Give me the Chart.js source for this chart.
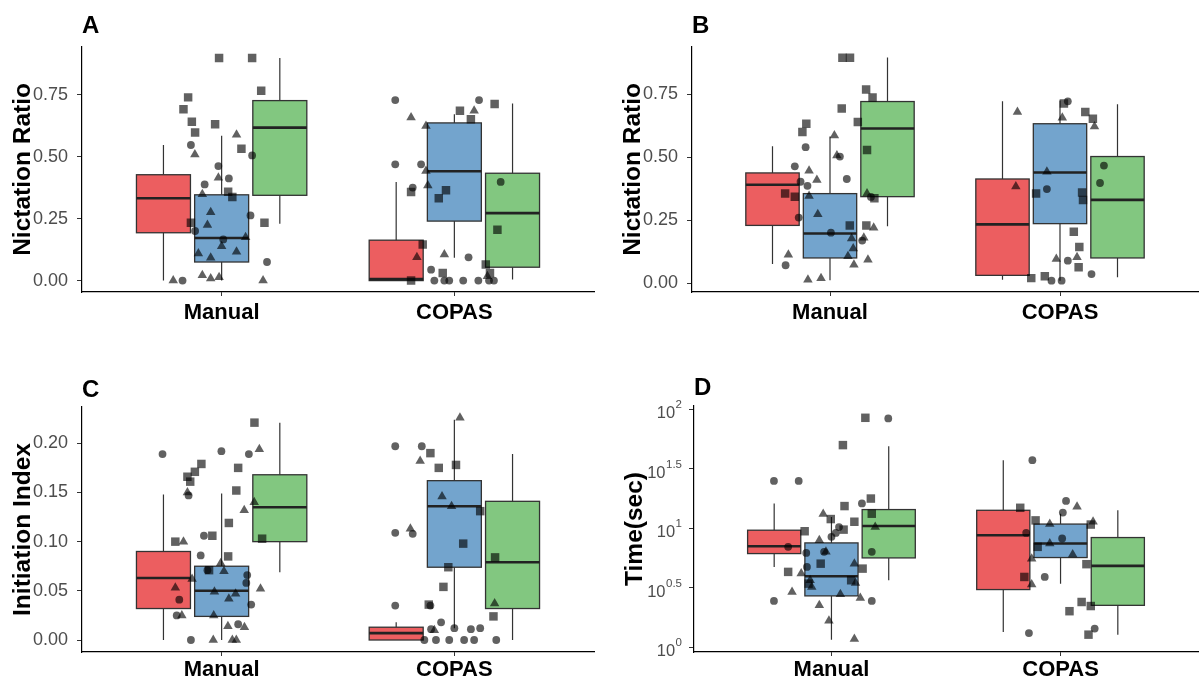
<!DOCTYPE html>
<html>
<head>
<meta charset="utf-8">
<script src="https://cdn.jsdelivr.net/npm/chart.js@4.4.1/dist/chart.umd.min.js"></script>
<style>
  body { margin: 0; background: #fff; }
  #wrap { position: relative; width: 1204px; height: 684px; overflow: hidden; }
  #wrap canvas { position: absolute; }
</style>
</head>
<body>
<div id="wrap">
  <canvas id="panelA" width="600" height="340" style="left:0;top:0"></canvas>
  <canvas id="panelB" width="604" height="340" style="left:600px;top:0"></canvas>
  <canvas id="panelC" width="600" height="344" style="left:0;top:340px"></canvas>
  <canvas id="panelD" width="604" height="344" style="left:600px;top:340px"></canvas>
</div>
<script>
// categories on the x axis (1 = Manual, 2 = COPAS); boxes come in the order
// Manual red, blue, green, COPAS red, blue, green
const groups = ['Manual', 'COPAS'];
const ratioTicks = [0, 0.25, 0.5, 0.75];
const indexTicks = [0, 0.05, 0.10, 0.15, 0.20];
const timeTickExps = [0, 0.5, 1, 1.5, 2];

// ---- A: Nictation Ratio ----
const aLower  = [0.000, 0.000, 0.229, 0.000, 0.092, 0.004];
const aQ1     = [0.193, 0.075, 0.344, 0.000, 0.240, 0.054];
const aMedian = [0.332, 0.172, 0.617, 0.006, 0.441, 0.272];
const aQ3     = [0.427, 0.346, 0.726, 0.163, 0.636, 0.433];
const aUpper  = [0.547, 0.584, 0.898, 0.398, 0.671, 0.714];
const aCircles = [[0.868,0.547],[0.986,0.462],[1.031,0.412],[0.927,0.388],[1.131,0.505],[1.124,0.263],
  [1.007,0.166],[1.195,0.075],[0.832,0.0],[0.886,0.200],
  [1.746,0.728],[1.746,0.469],[1.857,0.469],[1.821,0.375],[2.106,0.728],[2.199,0.398],[2.061,0.094],
  [1.900,0.044],[1.914,0.0],[1.957,0.0],[1.978,0.0],[2.038,0.0],[2.103,0.0],[2.149,0.0],[2.170,0.0]];
const aTriangles = [[0.885,0.509],[1.064,0.588],[0.986,0.415],[0.953,0.276],[0.939,0.224],[0.900,0.109],
  [1.064,0.116],[1.000,0.139],[0.953,0.092],[1.103,0.175],[0.792,0.0],[0.917,0.022],[0.953,0.008],
  [0.989,0.013],[1.178,0.0],[0.917,0.348],
  [1.814,0.658],[1.878,0.624],[1.878,0.442],[1.886,0.384],[2.085,0.685],[1.957,0.105],[1.839,0.094],[2.142,0.018]];
const aSquares = [[0.989,0.898],[1.131,0.898],[1.170,0.766],[0.856,0.739],[0.836,0.691],[0.872,0.641],
  [0.886,0.597],[0.972,0.631],[1.085,0.532],[1.028,0.358],[1.046,0.337],[0.868,0.233],[1.184,0.233],
  [2.173,0.712],[2.024,0.685],[2.071,0.651],[1.964,0.364],[1.933,0.332],[1.814,0.357],[2.185,0.205],
  [1.864,0.146],[1.814,0.0],[1.950,0.031],[2.135,0.065],[2.153,0.031]];

// ---- B: Nictation Ratio ----
const bLower  = [0.077, 0.013, 0.227, 0.015, 0.011, 0.024];
const bQ1     = [0.230, 0.101, 0.344, 0.032, 0.237, 0.101];
const bMedian = [0.391, 0.198, 0.614, 0.234, 0.440, 0.331];
const bQ3     = [0.438, 0.356, 0.721, 0.414, 0.633, 0.503];
const bUpper  = [0.544, 0.582, 0.896, 0.722, 0.725, 0.710];
const bCircles = [[0.894,0.540],[0.847,0.464],[1.043,0.503],[1.073,0.414],[0.902,0.387],[0.872,0.403],
  [0.864,0.261],[1.004,0.201],[1.140,0.170],[0.807,0.072],[1.178,0.343],
  [2.034,0.722],[1.943,0.374],[2.191,0.467],[2.174,0.398],[2.034,0.090],[1.963,0.011],[2.007,0.011],[2.137,0.037]];
const bTriangles = [[1.019,0.586],[1.030,0.507],[0.909,0.447],[0.943,0.410],[0.909,0.347],[0.947,0.274],
  [1.161,0.356],[0.819,0.114],[1.094,0.178],[1.101,0.138],[1.078,0.108],[1.104,0.074],[1.165,0.094],
  [1.147,0.181],[1.190,0.221],[0.904,0.015],[0.961,0.021],
  [1.815,0.680],[1.808,0.384],[1.943,0.443],[2.010,0.657],[2.150,0.622],[1.984,0.097],[2.074,0.104]];
const bSquares = [[1.054,0.895],[1.087,0.895],[1.157,0.769],[1.185,0.737],[1.051,0.693],[1.121,0.640],
  [0.897,0.633],[0.880,0.600],[1.161,0.529],[0.805,0.356],[0.847,0.344],[1.086,0.230],[1.158,0.230],[1.193,0.338],
  [2.017,0.713],[2.110,0.680],[2.143,0.653],[1.896,0.356],[2.096,0.360],[2.100,0.331],[2.060,0.205],
  [2.084,0.144],[2.081,0.064],[1.875,0.021],[1.934,0.028]];

// ---- C: Initiation Index ----
const cLower  = [0.000, 0.000, 0.069, 0.000, 0.012, 0.000];
const cQ1     = [0.032, 0.024, 0.100, 0.000, 0.074, 0.032];
const cMedian = [0.063, 0.050, 0.135, 0.007, 0.136, 0.079];
const cQ3     = [0.090, 0.075, 0.168, 0.013, 0.162, 0.141];
const cUpper  = [0.148, 0.149, 0.221, 0.018, 0.224, 0.189];
const cCircles = [[0.746,0.189],[0.999,0.192],[1.117,0.189],[0.858,0.147],[0.924,0.106],[0.910,0.086],
  [0.939,0.071],[0.818,0.041],[0.807,0.025],[0.868,0.0],[1.110,0.066],[1.106,0.058],[1.127,0.036],[1.071,0.016],
  [1.746,0.197],[1.860,0.197],[1.746,0.109],[1.821,0.108],[1.746,0.035],[1.897,0.035],[1.943,0.018],
  [2.000,0.012],[1.900,0.011],[2.071,0.011],[2.111,0.012],[1.871,0.0],[1.921,0.0],[1.978,0.0],
  [2.042,0.0],[2.085,0.0],[2.180,0.0]];
const cTriangles = [[1.162,0.194],[0.853,0.150],[1.097,0.132],[1.140,0.140],[0.836,0.100],[0.996,0.078],
  [1.010,0.070],[0.873,0.062],[0.801,0.053],[0.969,0.049],[1.060,0.047],[1.031,0.042],[1.167,0.052],
  [0.829,0.025],[0.966,0.025],[1.027,0.014],[1.098,0.013],[0.964,0.0],[1.046,0.0],[1.063,0.0],
  [2.024,0.226],[1.853,0.182],[1.947,0.146],[1.988,0.136],[1.811,0.113],[2.173,0.037],[1.914,0.010]];
const cSquares = [[1.141,0.221],[0.913,0.179],[0.885,0.171],[0.853,0.166],[0.865,0.161],[1.071,0.175],
  [1.063,0.152],[1.031,0.119],[0.960,0.106],[0.801,0.100],[1.028,0.085],[1.174,0.103],[0.946,0.071],
  [1.897,0.190],[1.933,0.175],[2.007,0.178],[2.111,0.131],[2.038,0.098],[2.175,0.084],[1.974,0.074],
  [1.953,0.054],[1.890,0.036],[2.168,0.024]];

// ---- D: Time (sec), log scale ----
const dLower  = [4.71, 1.15, 3.64, 1.34, 3.41, 1.27];
const dQ1     = [6.10, 2.69, 5.61, 3.04, 5.65, 2.24];
const dMedian = [7.03, 3.93, 10.4, 8.71, 7.41, 4.81];
const dQ3     = [9.59, 7.50, 14.3, 14.1, 10.8, 8.32];
const dUpper  = [16.1, 12.4, 48.8, 37.2, 13.2, 14.1];
const dCircles = [[0.749,24.9],[0.857,24.9],[1.248,83.4],[1.133,16.1],[0.749,2.44],[1.176,2.44],[0.811,6.95],
  [0.890,6.18],[0.893,4.71],[1.000,8.43],[1.019,9.10],[1.033,10.2],[0.968,6.31],[1.176,6.31],
  [1.877,37.2],[2.024,16.9],[2.010,13.5],[2.007,8.17],[1.850,9.10],[1.931,3.88],[1.862,1.31],[2.149,1.43]];
const dTriangles = [[0.964,13.1],[0.947,7.91],[1.191,10.2],[0.976,6.31],[1.100,5.02],[0.868,4.14],[0.907,3.64],
  [0.914,3.20],[0.828,2.90],[1.039,2.77],[1.105,3.46],[1.126,2.58],[0.947,2.24],[0.989,1.66],[1.100,1.17],
  [2.072,15.1],[1.953,10.8],[2.142,11.3],[1.953,7.41],[2.053,5.98],[1.874,5.53],[1.874,3.35]];
const dSquares = [[1.148,84.5],[1.050,49.8],[1.172,17.7],[1.057,15.3],[0.997,11.9],[1.100,11.3],[1.176,13.2],
  [0.883,9.40],[1.053,9.70],[0.953,5.02],[0.811,4.28],[1.136,4.56],[1.086,3.64],[0.900,3.41],
  [1.824,14.8],[1.891,11.6],[2.132,10.7],[1.900,6.95],[2.113,4.97],[1.842,3.88],[2.092,2.39],
  [2.132,2.21],[2.039,2.00],[2.122,1.27]];

// styling
const FONT = "'Liberation Sans', Arial, sans-serif";
const boxFill = ['rgba(228,26,28,0.7)', 'rgba(55,126,184,0.7)', 'rgba(77,175,74,0.7)'];
const dodge = [-0.25, 0, 0.25];
const boxWidth = 0.232;
const pointColor = 'rgba(0,0,0,0.62)';

// boxes, whiskers and medians drawn under the jittered points
function boxPlugin(lower, q1, median, q3, upper) {
  return {
    id: 'boxes',
    beforeDatasetsDraw(chart) {
      const { ctx, scales: { x, y } } = chart;
      const half = (x.getPixelForValue(boxWidth) - x.getPixelForValue(0)) / 2;
      ctx.save();
      for (let i = 0; i < median.length; i++) {
        const k = i % 3;
        const cx = x.getPixelForValue(Math.floor(i / 3) + 1 + dodge[k]);
        const yLo = y.getPixelForValue(lower[i]);
        const y1 = y.getPixelForValue(q1[i]);
        const yMed = y.getPixelForValue(median[i]);
        const y3 = y.getPixelForValue(q3[i]);
        const yHi = y.getPixelForValue(upper[i]);

        ctx.strokeStyle = '#333';
        ctx.lineWidth = 1.2;
        ctx.beginPath();
        ctx.moveTo(cx, yHi); ctx.lineTo(cx, y3);
        ctx.moveTo(cx, y1); ctx.lineTo(cx, yLo);
        ctx.stroke();

        ctx.fillStyle = boxFill[k];
        ctx.fillRect(cx - half, y3, half * 2, y1 - y3);
        ctx.lineWidth = 1.3;
        ctx.strokeRect(cx - half, y3, half * 2, y1 - y3);

        ctx.strokeStyle = '#222';
        ctx.lineWidth = 2.6;
        ctx.beginPath();
        ctx.moveTo(cx - half, yMed); ctx.lineTo(cx + half, yMed);
        ctx.stroke();
      }
      ctx.restore();
    }
  };
}

// 10^x style tick labels for the time axis
const timeLabels = {
  id: 'timeLabels',
  afterDraw(chart) {
    const { ctx, scales: { y } } = chart;
    const right = y.right - 12;
    ctx.save();
    ctx.fillStyle = '#4d4d4d';
    ctx.textAlign = 'right';
    ctx.textBaseline = 'alphabetic';
    timeTickExps.forEach(e => {
      const py = y.getPixelForValue(Math.pow(10, e));
      const sup = String(e);
      ctx.font = '11.5px ' + FONT;
      ctx.fillText(sup, right, py - 1);
      const w = ctx.measureText(sup).width;
      ctx.font = '16.5px ' + FONT;
      ctx.fillText('10', right - w - 0.5, py + 9);
    });
    ctx.restore();
  }
};

function makePanel(id, p) {
  const pts = arr => arr.map(([x, y]) => ({ x, y }));
  const set = (data, style, r) => ({
    data: pts(data), pointStyle: style, pointRadius: r, pointHoverRadius: r,
    pointBackgroundColor: pointColor, backgroundColor: pointColor,
    pointBorderWidth: 0, pointBorderColor: 'rgba(0,0,0,0)'
  });
  const axisGrid = { display: true, drawOnChartArea: false, drawTicks: true, tickLength: 5, color: '#333', lineWidth: 1 };
  const axisBorder = { display: true, color: '#000', width: 1.2 };

  return new Chart(document.getElementById(id), {
    type: 'scatter',
    data: {
      datasets: [
        set(p.circles, 'circle', 3.9),
        set(p.triangles, 'triangle', 5.5),
        set(p.squares, 'rect', 6)
      ]
    },
    options: {
      responsive: false,
      animation: false,
      events: [],
      layout: { padding: { left: 0, right: p.rightPad, top: 0, bottom: 0 } },
      plugins: {
        legend: { display: false },
        tooltip: { enabled: false },
        title: {
          display: true, text: p.letter, align: 'start', fullSize: false, color: '#000',
          font: { family: FONT, size: 24, weight: 'bold' },
          padding: { top: p.titleTop, bottom: p.titleBottom }
        }
      },
      scales: {
        x: {
          type: 'linear', min: 0.4, max: 2.6,
          afterBuildTicks: s => { s.ticks = groups.map((g, i) => ({ value: i + 1 })); },
          afterFit: s => { s.height = p.xHeight; },
          grid: Object.assign({}, axisGrid, { tickLength: 4 }),
          border: axisBorder,
          ticks: {
            color: '#000', font: { family: FONT, size: 22, weight: 'bold' },
            padding: p.xPad, maxRotation: 0, autoSkip: false,
            callback: (v, i) => groups[i]
          }
        },
        y: {
          type: p.yType, min: p.yMin, max: p.yMax,
          afterBuildTicks: s => { s.ticks = p.yTicks.map(v => ({ value: v })); },
          afterFit: s => { s.width = p.yWidth; },
          grid: axisGrid,
          border: axisBorder,
          ticks: {
            color: '#4d4d4d', font: { family: FONT, size: 18 }, padding: 9,
            callback: p.tickLabel
          },
          title: {
            display: true, text: p.yTitle, color: '#000',
            font: { family: FONT, size: 24.5, weight: 'bold' },
            padding: { top: p.yTitlePad, bottom: 0 }
          }
        }
      }
    },
    plugins: [boxPlugin(p.lower, p.q1, p.median, p.q3, p.upper)].concat(p.extra || [])
  });
}

const fixed2 = v => v.toFixed(2);

makePanel('panelA', {
  letter: 'A', yTitle: 'Nictation Ratio', yType: 'linear', yMin: -0.046, yMax: 0.943,
  yTicks: ratioTicks, tickLabel: fixed2,
  lower: aLower, q1: aQ1, median: aMedian, q3: aQ3, upper: aUpper,
  circles: aCircles, triangles: aTriangles, squares: aSquares,
  yWidth: 82, rightPad: 3, titleTop: 12, titleBottom: 6, xHeight: 48, xPad: 4, yTitlePad: 8.3
});

makePanel('panelB', {
  letter: 'B', yTitle: 'Nictation Ratio', yType: 'linear', yMin: -0.034, yMax: 0.938,
  yTicks: ratioTicks, tickLabel: fixed2,
  lower: bLower, q1: bQ1, median: bMedian, q3: bQ3, upper: bUpper,
  circles: bCircles, triangles: bTriangles, squares: bSquares,
  yWidth: 92, rightPad: 0, titleTop: 12, titleBottom: 6, xHeight: 48, xPad: 4, yTitlePad: 18.3
});

makePanel('panelC', {
  letter: 'C', yTitle: 'Initiation Index', yType: 'linear', yMin: -0.0122, yMax: 0.2369,
  yTicks: indexTicks, tickLabel: fixed2,
  lower: cLower, q1: cQ1, median: cMedian, q3: cQ3, upper: cUpper,
  circles: cCircles, triangles: cTriangles, squares: cSquares,
  yWidth: 82, rightPad: 4, titleTop: 35.6, titleBottom: 2.6, xHeight: 32, xPad: 1, yTitlePad: 8.3
});

makePanel('panelD', {
  letter: 'D', yTitle: 'Time(sec)', yType: 'logarithmic',
  yMin: Math.pow(10, -0.042), yMax: Math.pow(10, 2.026),
  yTicks: timeTickExps.map(e => Math.pow(10, e)), tickLabel: () => '',
  lower: dLower, q1: dQ1, median: dMedian, q3: dQ3, upper: dUpper,
  circles: dCircles, triangles: dTriangles, squares: dSquares,
  yWidth: 94, rightPad: 0, titleTop: 33.6, titleBottom: 3.6, xHeight: 32, xPad: 1, yTitlePad: 20.3,
  extra: [timeLabels]
});
</script>
</body>
</html>
